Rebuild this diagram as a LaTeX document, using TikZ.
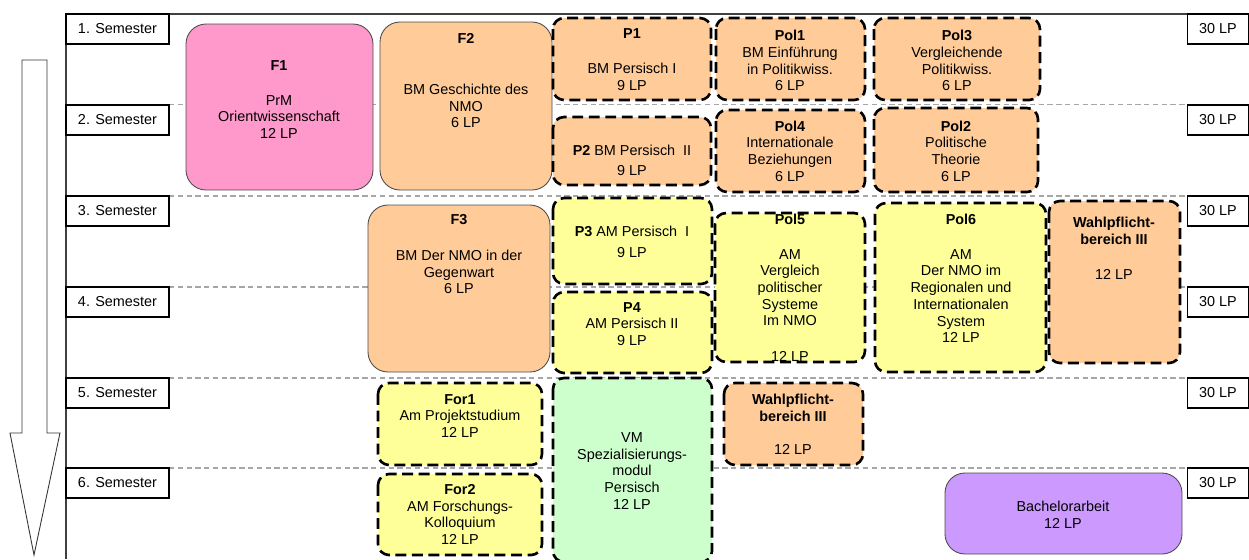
\documentclass[tikz,border=0pt]{standalone}
\usepackage{fontspec}
\setmainfont{Liberation Sans}
\usetikzlibrary{positioning}
\definecolor{orangemod}{HTML}{FFCC99}
\definecolor{yellowmod}{HTML}{FFFF99}
\definecolor{greenmod}{HTML}{CCFFCC}
\definecolor{pinkmod}{HTML}{FF99CC}
\definecolor{purplemod}{HTML}{CC99FF}
\newcommand{\modfont}{\fontsize{8.2}{9.5}\selectfont}
\tikzset{
	frameline/.style={black!75, line width=0.7pt},
	sembox/.style={draw=black, line width=0.6pt, fill=white, minimum width=2.06cm, minimum height=0.6cm, inner sep=0pt, font=\modfont},
	lpbox/.style={draw=black, line width=0.6pt, fill=white, minimum width=1.22cm, minimum height=0.6cm, inner sep=0pt, font=\modfont},
	semline/.style={black!35, line width=0.6pt, dash pattern=on 3pt off 2pt},
	solidmod/.style={draw=black!70, line width=0.5pt, rounded corners=0.4cm},
	dashmod/.style={draw=black, line width=1.5pt, dash pattern=on 6.2pt off 3.2pt, rounded corners=0.22cm},
	modtxt/.style={align=center, inner sep=0pt, font=\modfont}
}
\begin{document}
\begin{tikzpicture}[x=0.02cm, y=-0.02cm]
	\useasboundingbox (0,0) rectangle (1249,559);
	% frame and time arrow
	\draw[frameline] (66,14) -- (1249,14);
	\draw[frameline] (66,14) -- (66,559);
	\draw[black!80, line width=0.5pt, fill=white] (22,60) -- (47,60) -- (47,433) -- (60,433) -- (34,555) -- (10,433) -- (22,433) -- cycle;
	% semester dividers
	\draw[semline] (169,104.5) -- (1187,104.5);
	\draw[semline] (169,196) -- (1187,196);
	\draw[semline] (169,287) -- (1187,287);
	\draw[semline] (169,378) -- (1187,378);
	\draw[semline] (169,468) -- (1187,468);
	% semester labels
	\node[sembox] (sem1) at (117.5,29) {1. Semester};
	\node[sembox] (sem2) at (117.5,120) {2. Semester};
	\node[sembox] (sem3) at (117.5,211) {3. Semester};
	\node[sembox] (sem4) at (117.5,302) {4. Semester};
	\node[sembox] (sem5) at (117.5,393) {5. Semester};
	\node[sembox] (sem6) at (117.5,483) {6. Semester};
	\node[lpbox] (lp1) at (1218,29) {30 LP};
	\node[lpbox] (lp2) at (1218,120) {30 LP};
	\node[lpbox] (lp3) at (1218,211) {30 LP};
	\node[lpbox] (lp4) at (1218,302) {30 LP};
	\node[lpbox] (lp5) at (1218,393) {30 LP};
	\node[lpbox] (lp6) at (1218,483) {30 LP};
	% semester 1 and 2
	\draw[solidmod, fill=pinkmod] (186,24) rectangle (373,190);
	\node[modtxt] (f1h) at (279,66) {\textbf{F1}};
	\node[modtxt] (f1t) at (279,117) {PrM\\Orientwissenschaft\\12 LP};
	\draw[solidmod, fill=orangemod] (380,22) rectangle (552,190);
	\node[modtxt] (f2h) at (466,38) {\textbf{F2}};
	\node[modtxt] (f2t) at (466,106) {BM Geschichte des\\NMO\\6 LP};
	\draw[dashmod, fill=orangemod] (553,18) rectangle (711,100);
	\node[modtxt] (p1h) at (632,34) {\textbf{P1}};
	\node[modtxt] (p1t) at (632,77) {BM Persisch I\\9 LP};
	\draw[dashmod, fill=orangemod] (716,18) rectangle (865,100);
	\node[modtxt] (pol1t) at (790,60.5) {\textbf{Pol1}\\BM Einführung\\in Politikwiss.\\6 LP};
	\draw[dashmod, fill=orangemod] (874,18) rectangle (1040,100);
	\node[modtxt] (pol3t) at (957,60.5) {\textbf{Pol3}\\Vergleichende\\Politikwiss.\\6 LP};
	\draw[dashmod, fill=orangemod] (553,117) rectangle (711,185);
	\node[modtxt] (p2t) at (632,160) {\textbf{P2} BM Persisch~~II\\[2pt]9 LP};
	\draw[dashmod, fill=orangemod] (716,110) rectangle (865,192);
	\node[modtxt] (pol4t) at (790,151) {\textbf{Pol4}\\Internationale\\Beziehungen\\6 LP};
	\draw[dashmod, fill=orangemod] (874,108) rectangle (1038,192);
	\node[modtxt] (pol2t) at (956,151) {\textbf{Pol2}\\Politische\\Theorie\\6 LP};
	% semester 3 and 4
	\draw[solidmod, fill=orangemod] (368,205) rectangle (550,372);
	\node[modtxt] (f3h) at (459,220) {\textbf{F3}};
	\node[modtxt] (f3t) at (459,272) {BM Der NMO in der\\Gegenwart\\6 LP};
	\draw[dashmod, fill=yellowmod] (553,198) rectangle (712,284);
	\node[modtxt] (p3t) at (632,241.5) {\textbf{P3} AM Persisch~~I\\[2.5pt]9 LP};
	\draw[dashmod, fill=yellowmod] (553,292) rectangle (712,373);
	\node[modtxt] (p4t) at (632,324) {\textbf{P4}\\AM Persisch II\\9 LP};
	\draw[dashmod, fill=yellowmod] (715,213) rectangle (865,362);
	\node[modtxt] (pol5h) at (790,219) {\textbf{Pol5}};
	\node[modtxt] (pol5t) at (790,287.5) {AM\\Vergleich\\politischer\\Systeme\\Im NMO};
	\node[modtxt] (pol5lp) at (790,356) {12 LP};
	\draw[dashmod, fill=yellowmod] (875,203) rectangle (1046,372);
	\node[modtxt] (pol6h) at (961,219) {\textbf{Pol6}};
	\node[modtxt] (pol6t) at (961,296) {AM\\Der NMO im\\Regionalen und\\Internationalen\\System\\12 LP};
	\draw[dashmod, fill=orangemod] (1049,201) rectangle (1180,363);
	\node[modtxt] (wp1h) at (1114,230.5) {\textbf{Wahlpflicht-}\\\textbf{bereich III}};
	\node[modtxt] (wp1lp) at (1114,274) {12 LP};
	% semester 5 and 6
	\draw[dashmod, fill=yellowmod] (378,383) rectangle (542,465);
	\node[modtxt] (for1t) at (460,416) {\textbf{For1}\\Am Projektstudium\\12 LP};
	\draw[dashmod, fill=yellowmod] (378,474) rectangle (542,555);
	\node[modtxt] (for2t) at (460,514.5) {\textbf{For2}\\AM Forschungs-\\Kolloquium\\12 LP};
	\draw[dashmod, fill=greenmod] (553,378) rectangle (712,562);
	\node[modtxt] (vmt) at (632,471) {VM\\Spezialisierungs-\\modul\\Persisch\\12 LP};
	\draw[dashmod, fill=orangemod] (724,383) rectangle (863,465);
	\node[modtxt] (wp2h) at (793,407.5) {\textbf{Wahlpflicht-}\\\textbf{bereich III}};
	\node[modtxt] (wp2lp) at (793,449) {12 LP};
	\draw[solidmod, fill=purplemod] (945,473) rectangle (1182,554);
	\node[modtxt] (bat) at (1063,515) {Bachelorarbeit\\12 LP};
\end{tikzpicture}
\end{document}
